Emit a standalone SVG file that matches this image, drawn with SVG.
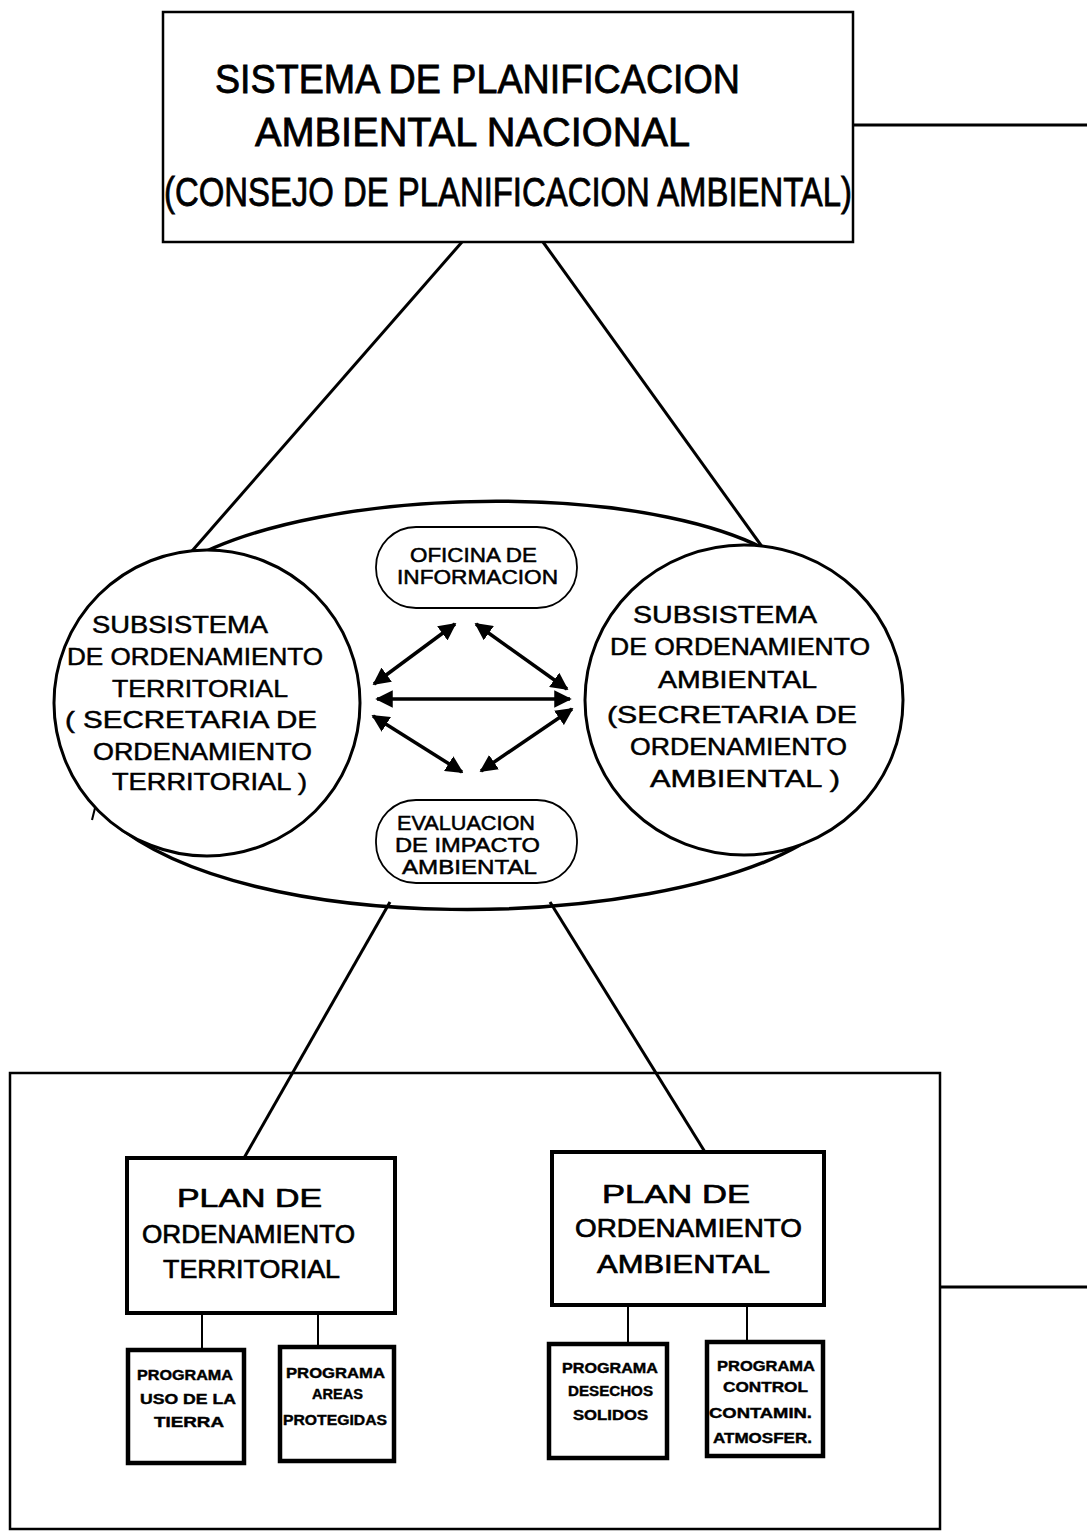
<svg xmlns="http://www.w3.org/2000/svg" width="1087" height="1538" viewBox="0 0 1087 1538">
<defs>
<marker id="ah" viewBox="0 0 10 10" refX="9" refY="5" markerWidth="5" markerHeight="5" orient="auto-start-reverse" markerUnits="strokeWidth">
<path d="M0,0 L10,5 L0,10 Z" fill="#000"/>
</marker>
<style>
.t{font-family:"Liberation Sans","DejaVu Sans",sans-serif;fill:#000;stroke:#000;stroke-width:0.5}
.big{font-size:40px;stroke-width:0.8}
.mid{font-size:24px}
.sm{font-size:20px}
.pl{font-size:26px;stroke-width:0.7}
.pr{font-size:14px;font-weight:bold;stroke-width:0.4}
.ln{stroke:#000;stroke-width:3;fill:none}
.thin{stroke-width:2}
.box{fill:#fff;stroke:#000}
.arr{stroke:#000;stroke-width:3.5;fill:none;marker-start:url(#ah);marker-end:url(#ah)}
</style>
</defs>
<rect width="1087" height="1538" fill="#fff"/>

<g id="connectors">
<line class="ln" x1="853" y1="125" x2="1087" y2="125"/>
<line class="ln" x1="462" y1="242" x2="192" y2="551"/>
<line class="ln" x1="543" y1="242" x2="763" y2="548"/>
<line class="ln" x1="390" y1="902" x2="244" y2="1158"/>
<line class="ln" x1="550" y1="902" x2="705" y2="1152"/>
<line class="ln" x1="940" y1="1287" x2="1087" y2="1287"/>
<line class="ln thin" x1="202" y1="1313" x2="202" y2="1350"/>
<line class="ln thin" x1="318" y1="1313" x2="318" y2="1347"/>
<line class="ln thin" x1="628" y1="1305" x2="628" y2="1343"/>
<line class="ln thin" x1="747" y1="1305" x2="747" y2="1342"/>
<line class="ln thin" x1="92" y1="820" x2="95" y2="808"/>
</g>

<g id="top-box">
<rect class="box" x="163" y="12" width="690" height="230" style="stroke-width:2.5"/>
<text class="t big" x="215" y="93" textLength="525" lengthAdjust="spacingAndGlyphs">SISTEMA DE PLANIFICACION</text>
<text class="t big" x="255" y="146" textLength="435" lengthAdjust="spacingAndGlyphs">AMBIENTAL NACIONAL</text>
<text class="t big" x="164" y="206" textLength="688" lengthAdjust="spacingAndGlyphs">(CONSEJO DE PLANIFICACION AMBIENTAL)</text>
</g>

<g id="big-ellipse">
<path d="M180,565 C320,480 680,480 790,565" fill="none" stroke="#000" stroke-width="3.5"/>
<path d="M110,820 C250,940 650,930 800,845" fill="none" stroke="#000" stroke-width="3.5"/>
</g>

<g id="circle-territorial">
<circle cx="207" cy="703" r="153" class="box" style="stroke-width:3"/>
<text class="t mid" x="92" y="633" textLength="176" lengthAdjust="spacingAndGlyphs">SUBSISTEMA</text>
<text class="t mid" x="67" y="665" textLength="256" lengthAdjust="spacingAndGlyphs">DE ORDENAMIENTO</text>
<text class="t mid" x="112" y="697" textLength="176" lengthAdjust="spacingAndGlyphs">TERRITORIAL</text>
<text class="t mid" x="65" y="728" textLength="252" lengthAdjust="spacingAndGlyphs">( SECRETARIA  DE</text>
<text class="t mid" x="93" y="760" textLength="219" lengthAdjust="spacingAndGlyphs">ORDENAMIENTO</text>
<text class="t mid" x="112" y="790" textLength="195" lengthAdjust="spacingAndGlyphs">TERRITORIAL )</text>
</g>

<g id="circle-ambiental">
<ellipse cx="744" cy="700" rx="159" ry="155" class="box" style="stroke-width:3"/>
<text class="t mid" x="633" y="623" textLength="184" lengthAdjust="spacingAndGlyphs">SUBSISTEMA</text>
<text class="t mid" x="610" y="655" textLength="260" lengthAdjust="spacingAndGlyphs">DE ORDENAMIENTO</text>
<text class="t mid" x="658" y="688" textLength="159" lengthAdjust="spacingAndGlyphs">AMBIENTAL</text>
<text class="t mid" x="607" y="723" textLength="250" lengthAdjust="spacingAndGlyphs">(SECRETARIA DE</text>
<text class="t mid" x="630" y="755" textLength="217" lengthAdjust="spacingAndGlyphs">ORDENAMIENTO</text>
<text class="t mid" x="650" y="787" textLength="190" lengthAdjust="spacingAndGlyphs">AMBIENTAL )</text>
</g>

<g id="oficina">
<rect class="box" x="376" y="527" width="201" height="81" rx="40" style="stroke-width:1.8"/>
<text class="t sm" x="410" y="562" textLength="127" lengthAdjust="spacingAndGlyphs">OFICINA DE</text>
<text class="t sm" x="397" y="584" textLength="161" lengthAdjust="spacingAndGlyphs">INFORMACION</text>
</g>

<g id="evaluacion">
<rect class="box" x="376" y="800" width="201" height="83" rx="40" style="stroke-width:1.8"/>
<text class="t sm" x="397" y="830" textLength="138" lengthAdjust="spacingAndGlyphs">EVALUACION</text>
<text class="t sm" x="395" y="852" textLength="145" lengthAdjust="spacingAndGlyphs">DE IMPACTO</text>
<text class="t sm" x="402" y="874" textLength="135" lengthAdjust="spacingAndGlyphs">AMBIENTAL</text>
</g>

<g id="arrows">
<line class="arr" x1="374" y1="684" x2="455" y2="624"/>
<line class="arr" x1="476" y1="624" x2="567" y2="689"/>
<line class="arr" x1="377" y1="699" x2="570" y2="699"/>
<line class="arr" x1="373" y1="716" x2="462" y2="772"/>
<line class="arr" x1="481" y1="771" x2="572" y2="709"/>
</g>

<g id="outer-plan-box">
<rect x="10" y="1073" width="930" height="456" fill="none" stroke="#000" stroke-width="2.5"/>
</g>

<g id="plan-territorial">
<rect class="box" x="127" y="1158" width="268" height="155" style="stroke-width:4"/>
<text class="t pl" x="177" y="1207" textLength="145" lengthAdjust="spacingAndGlyphs">PLAN  DE</text>
<text class="t pl" x="142" y="1243" textLength="213" lengthAdjust="spacingAndGlyphs">ORDENAMIENTO</text>
<text class="t pl" x="163" y="1278" textLength="177" lengthAdjust="spacingAndGlyphs">TERRITORIAL</text>
</g>

<g id="plan-ambiental">
<rect class="box" x="552" y="1152" width="272" height="153" style="stroke-width:4"/>
<text class="t pl" x="602" y="1203" textLength="148" lengthAdjust="spacingAndGlyphs">PLAN  DE</text>
<text class="t pl" x="575" y="1237" textLength="227" lengthAdjust="spacingAndGlyphs">ORDENAMIENTO</text>
<text class="t pl" x="597" y="1273" textLength="173" lengthAdjust="spacingAndGlyphs">AMBIENTAL</text>
</g>

<g id="prog-uso-tierra">
<rect class="box" x="128" y="1350" width="116" height="113" style="stroke-width:4.5"/>
<text class="t pr" x="137" y="1380" textLength="96" lengthAdjust="spacingAndGlyphs">PROGRAMA</text>
<text class="t pr" x="140" y="1404" textLength="96" lengthAdjust="spacingAndGlyphs">USO DE LA</text>
<text class="t pr" x="154" y="1427" textLength="70" lengthAdjust="spacingAndGlyphs">TIERRA</text>
</g>

<g id="prog-areas">
<rect class="box" x="280" y="1347" width="114" height="114" style="stroke-width:4.5"/>
<text class="t pr" x="286" y="1378" textLength="99" lengthAdjust="spacingAndGlyphs">PROGRAMA</text>
<text class="t pr" x="312" y="1399" textLength="51" lengthAdjust="spacingAndGlyphs">AREAS</text>
<text class="t pr" x="283" y="1425" textLength="104" lengthAdjust="spacingAndGlyphs">PROTEGIDAS</text>
</g>

<g id="prog-desechos">
<rect class="box" x="549" y="1344" width="118" height="114" style="stroke-width:4.5"/>
<text class="t pr" x="562" y="1373" textLength="96" lengthAdjust="spacingAndGlyphs">PROGRAMA</text>
<text class="t pr" x="568" y="1396" textLength="85" lengthAdjust="spacingAndGlyphs">DESECHOS</text>
<text class="t pr" x="573" y="1420" textLength="75" lengthAdjust="spacingAndGlyphs">SOLIDOS</text>
</g>

<g id="prog-control">
<rect class="box" x="707" y="1342" width="116" height="114" style="stroke-width:4.5"/>
<text class="t pr" x="717" y="1371" textLength="98" lengthAdjust="spacingAndGlyphs">PROGRAMA</text>
<text class="t pr" x="723" y="1392" textLength="85" lengthAdjust="spacingAndGlyphs">CONTROL</text>
<text class="t pr" x="709" y="1418" textLength="103" lengthAdjust="spacingAndGlyphs">CONTAMIN.</text>
<text class="t pr" x="713" y="1443" textLength="99" lengthAdjust="spacingAndGlyphs">ATMOSFER.</text>
</g>
</svg>
